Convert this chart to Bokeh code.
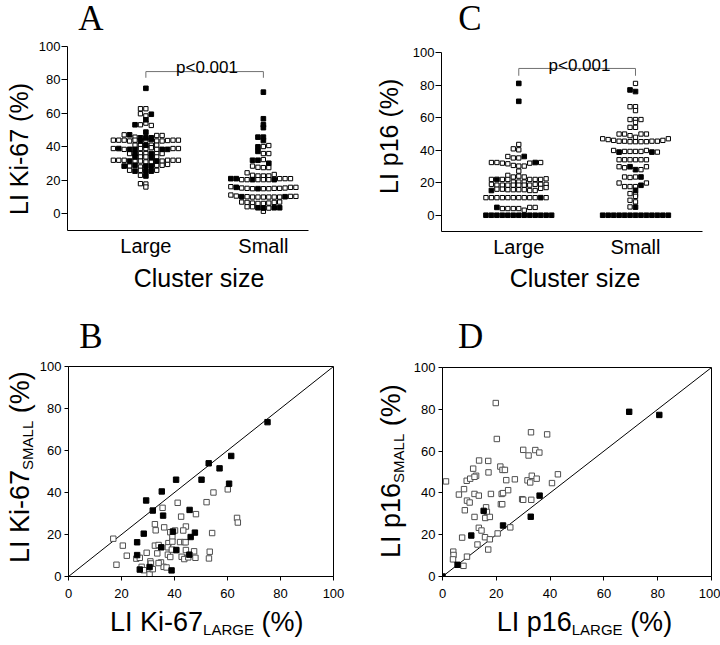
import math
from bokeh.plotting import figure
from bokeh.models import Range1d, FixedTicker, Label, Div
from bokeh.layouts import column, row
from bokeh.embed import file_html
from bokeh.resources import INLINE

# ---------------- data ----------------
# 1 = filled square, 0 = open square
# Panel A : LI Ki-67 (%)  -- Large clusters
a_large_vals = [75.0,
                62.8, 62.8,
                59.8, 58.5, 59.5,
                56.2,
                53.2, 53.2, 54.2, 52.8,
                48.8,
                47.2, 47.2, 45.8, 45.4, 45.4, 45.4, 46.8, 46.8,
                44.0, 44.0, 44.0, 43.5, 44.0, 43.5, 44.0, 44.4, 43.5, 43.5, 43.8, 44.0, 44.0,
                41.0, 41.0, 41.0, 41.0, 41.0,
                39.0, 39.0, 38.5, 38.5, 38.5, 39.0, 39.0, 39.5, 38.5, 38.5, 38.5, 39.0, 39.0,
                36.0, 36.0, 36.0, 36.0, 36.0, 36.0, 36.0,
                34.0, 34.0, 34.0, 33.5, 34.0,
                32.0, 32.0, 32.0, 31.5, 31.5, 31.5, 31.0, 31.0, 31.5, 31.5, 32.0, 32.0, 32.0,
                28.5, 28.5, 29.0, 28.0, 28.5, 28.5, 29.0, 29.0, 29.5,
                26.0, 25.5, 26.0, 25.5, 25.5, 26.0,
                23.0, 22.6,
                18.0, 17.8,
                16.0]
a_large_fill = [1,
                0, 0,
                0, 0, 1,
                1,
                1, 0, 0, 0,
                1,
                0, 1, 0, 1, 1, 1, 0, 0,
                0, 0, 0, 0, 0, 1, 0, 1, 0, 0, 0, 0, 0,
                0, 0, 1, 0, 0,
                0, 1, 0, 1, 1, 0, 0, 0, 0, 1, 1, 0, 0,
                0, 1, 0, 0, 1, 0, 0,
                1, 0, 0, 1, 0,
                0, 0, 0, 1, 0, 0, 0, 0, 1, 0, 0, 0, 0,
                1, 0, 1, 0, 1, 1, 0, 0, 0,
                0, 1, 0, 1, 1, 0,
                0, 1,
                0, 0,
                0]
# Panel A : LI Ki-67 (%)  -- Small clusters
a_small_vals = [72.7,
                56.8,
                53.2,
                51.5,
                45.8, 45.8,
                43.8,
                40.0, 40.2, 40.8,
                37.3, 36.0, 36.0,
                32.0, 32.0, 32.4, 30.2,
                28.5, 27.8, 27.6, 27.6,
                24.5, 23.0, 22.6, 22.6, 22.6, 23.5,
                21.0, 21.0, 20.4, 20.4, 20.4, 20.4, 20.4, 20.4, 20.4, 21.0, 21.0, 21.0,
                16.2, 15.8, 15.4, 15.2, 15.0, 15.0, 15.0, 15.0, 15.2, 15.2, 15.4, 15.8, 15.8,
                11.2, 10.6, 10.2, 10.2, 10.0, 10.0, 10.0, 10.0, 10.0, 10.0, 10.2, 10.4, 10.4,
                7.0, 6.8, 6.4, 6.2, 6.2, 6.4, 6.8, 7.0,
                4.2, 4.2, 3.6, 3.4, 3.4, 3.6, 3.6,
                1.5]
a_small_fill = [1,
                1,
                1,
                1,
                1, 1,
                1,
                1, 0, 0,
                1, 0, 0,
                1, 1, 0, 1,
                0, 0, 0, 0,
                0, 0, 0, 0, 0, 0,
                1, 1, 0, 0, 1, 0, 0, 0, 1, 0, 0, 0,
                0, 1, 0, 0, 0, 1, 0, 0, 0, 0, 0, 0, 0,
                0, 0, 1, 0, 0, 0, 0, 0, 0, 0, 1, 0, 0,
                0, 0, 0, 0, 0, 0, 0, 0,
                0, 0, 1, 1, 0, 1, 1,
                0]
# Panel C : LI p16 (%)  -- Large clusters
c_large_vals = [81.0,
                70.0,
                43.5,
                40.8, 40.2,
                36.1, 35.2, 35.2, 36.1,
                32.4, 32.4, 32.0, 31.6, 30.6, 30.2, 30.2, 32.0, 32.4, 32.4,
                27.1,
                24.5, 23.5, 24.0, 23.5,
                22.0, 22.0, 22.0, 22.0, 20.4, 20.4, 20.4, 22.0, 22.0, 22.0, 22.4,
                19.0, 18.5, 18.5, 18.5, 18.5, 18.5, 18.5, 18.5, 19.0, 19.0, 19.0,
                15.2, 16.0, 16.0, 15.7, 15.7, 15.7, 15.7, 15.2, 15.2, 16.5, 17.0,
                10.8, 10.8, 10.8, 10.8, 10.8, 10.8, 10.8, 10.8, 10.8, 10.8, 10.8, 10.8,
                4.8, 4.1, 4.1, 4.1, 4.1, 3.1, 4.8, 4.8,
                0, 0, 0, 0, 0, 0, 0, 0, 0, 0, 0, 0, 0]
c_large_fill = [1,
                1,
                0,
                0, 0,
                0, 0, 0, 1,
                0, 0, 0, 0, 0, 0, 0, 0, 1, 0,
                0,
                0, 0, 0, 0,
                0, 1, 0, 0, 0, 0, 0, 0, 0, 0, 0,
                0, 0, 0, 0, 0, 0, 0, 0, 0, 0, 0,
                1, 0, 0, 0, 0, 0, 0, 0, 0, 0, 0,
                0, 0, 0, 0, 0, 0, 0, 0, 0, 0, 1, 0,
                1, 0, 0, 0, 0, 0, 0, 0,
                1, 1, 1, 1, 1, 1, 1, 1, 1, 1, 1, 1, 1]
# Panel C : LI p16 (%)  -- Small clusters
c_small_vals = [81.0,
                77.0, 76.0,
                66.7, 66.7,
                64.3,
                58.8, 58.8, 58.8,
                57.0,
                54.0, 54.0,
                49.9, 49.9, 48.9, 47.9, 49.9, 49.9,
                47.0, 46.5, 46.0, 45.5, 45.5, 45.2, 45.2, 45.2, 45.2, 45.5, 45.5, 46.0, 47.0,
                39.8, 38.8, 39.2, 39.2, 39.2, 39.2, 39.8, 38.8, 38.8,
                34.1, 34.1, 34.1, 34.1, 34.1, 34.1,
                29.8, 29.2, 29.8, 28.0, 28.0, 29.8,
                23.5, 23.2, 23.5, 23.5,
                19.8, 17.6, 17.6, 17.6, 18.4, 19.8,
                15.3,
                13.3, 12.8,
                11.6,
                9.2, 8.2,
                5.1, 5.0,
                0, 0, 0, 0, 0, 0, 0, 0, 0, 0, 0, 0, 0]
c_small_fill = [0,
                1, 1,
                0, 0,
                0,
                0, 0, 0,
                0,
                0, 0,
                0, 0, 0, 0, 0, 0,
                0, 0, 0, 0, 0, 0, 0, 0, 0, 0, 0, 0, 0,
                0, 1, 0, 0, 0, 0, 0, 1, 0,
                0, 0, 0, 0, 0, 0,
                0, 0, 1, 1, 0, 0,
                0, 0, 0, 1,
                0, 0, 0, 0, 1, 0,
                1,
                0, 0,
                0,
                0, 0,
                0, 1,
                1, 1, 1, 1, 1, 1, 1, 1, 1, 1, 1, 1, 1]

# Panel B : LI Ki-67 Large vs Small (per case)
b_large_filled = [75.1, 61.4, 52.9, 57.0, 40.6, 50.2, 60.6, 35.2, 29.3, 31.8, 45.7, 35.7,
                  28.4, 39.4, 47.7, 46.1, 25.9, 35.0, 40.7, 25.9, 45.6, 26.9, 30.6, 38.9]
b_small_filled = [73.5, 57.4, 53.9, 51.5, 46.1, 46.1, 44.2, 40.5, 36.2, 31.4, 31.7, 29.0,
                  20.4, 21.4, 20.9, 18.8, 16.3, 13.9, 12.6, 10.2, 10.4, 3.3, 4.5, 2.9]
b_large_open = [54.7, 60.1, 52.1, 41.2, 35.5, 42.5, 48.1, 63.6, 63.9, 32.6, 32.9, 36.1, 44.3, 43.3,
                40.2, 38.4, 54.2, 16.9, 20.5, 22.0, 18.1, 25.6, 26.9, 29.5, 27.6, 30.9, 31.1, 30.6,
                31.8, 32.6, 34.0, 33.5, 34.9, 35.9, 37.0, 37.7, 37.5, 37.5, 38.4, 39.2, 39.2, 40.5,
                39.0, 42.1, 43.7, 42.7, 43.7, 44.3, 44.2, 45.2, 47.4, 47.9, 53.3, 53.0, 34.0, 28.4]
b_small_open = [40.0, 41.5, 35.4, 35.1, 32.7, 28.5, 29.7, 27.9, 25.7, 24.9, 22.0, 23.4, 23.8, 21.9,
                21.9, 21.1, 20.7, 18.0, 14.7, 9.9, 5.6, 8.5, 8.9, 11.3, 4.6, 7.2, 6.2, 1.0,
                3.5, 14.7, 15.0, 11.0, 6.7, 4.6, 4.3, 15.9, 13.9, 10.4, 9.3, 18.7, 16.6, 12.6,
                12.8, 16.4, 16.4, 9.4, 8.3, 12.6, 16.3, 9.1, 12.0, 8.9, 11.8, 8.6, 6.4, 3.0]

# Panel D : LI p16 Large vs Small (per case)
d_large_filled = [0.0, 5.6, 10.7, 15.3, 22.5, 32.8, 36.1, 69.4, 80.6]
d_small_filled = [0.0, 5.6, 19.6, 31.4, 24.4, 28.6, 38.7, 78.8, 77.3]
d_large_open = [19.8, 20.2, 32.9, 38.9, 30.0, 32.0, 34.5, 36.0, 13.6, 17.0, 11.4, 12.5, 17.1, 21.5,
                22.3, 23.2, 1.3, 9.0, 10.3, 11.9, 23.7, 26.9, 31.6, 32.6, 33.2, 35.0, 40.7, 42.9,
                6.1, 8.0, 9.1, 10.1, 8.3, 11.9, 11.9, 13.5, 18.0, 22.0, 22.5, 24.4, 21.7, 22.2,
                16.2, 16.5, 15.9, 17.6, 29.6, 30.0, 33.0, 13.5, 14.5, 15.8, 17.6, 17.0, 13.0,
                7.3, 20.5, 25.2, 4.0, 4.1, 3.9, 7.8, 9.1]
d_small_open = [83.0, 65.8, 69.0, 68.0, 60.6, 57.9, 60.5, 59.3, 55.5, 55.3, 51.6, 48.2, 49.8, 52.6,
                51.0, 51.0, 45.5, 45.8, 46.8, 47.7, 46.1, 46.5, 46.0, 45.0, 48.2, 46.8, 44.7, 48.9,
                39.2, 41.8, 36.3, 35.4, 31.7, 28.5, 39.5, 38.7, 39.5, 39.5, 39.9, 41.3, 34.6, 34.6,
                33.1, 30.9, 28.0, 28.5, 37.0, 36.7, 36.7, 23.3, 22.0, 18.8, 17.8, 12.9, 15.3,
                18.6, 20.6, 23.5, 11.9, 10.3, 8.2, 5.1, 9.5]

group_pos = {"Large": 1, "Small": 2}
pct_ticks = [0, 20, 40, 60, 80, 100]

# ---------------- helpers ----------------
FONT = "Liberation Sans"
SANS_K = 0.8465   # baseline offset (em) inside a line box of line-height 1
SERIF_K = 0.8375


def span(x, baseline, size, html, serif=False, align="center", vertical=False):
    fam = "'Liberation Serif'" if serif else "'Liberation Sans'"
    k = SERIF_K if serif else SANS_K
    base = (f"position:absolute;white-space:nowrap;font-family:{fam};font-size:{size}px;"
            f"line-height:{size}px;color:#000;margin:0;padding:0;")
    if vertical:
        # x = baseline position, baseline arg = bottom end of text
        return (f'<div style="{base}left:{x - k * size:.1f}px;top:{baseline:.1f}px;'
                f'transform-origin:0 0;transform:rotate(-90deg);">{html}</div>')
    top = baseline - k * size
    if align == "center":
        return (f'<div style="{base}left:{x - 150:.1f}px;width:300px;text-align:center;'
                f'top:{top:.1f}px;">{html}</div>')
    return f'<div style="{base}left:{x:.1f}px;top:{top:.1f}px;">{html}</div>'


def box(w, h, *items):
    inner = "".join(items)
    return Div(text=f'<div style="position:relative;width:{w}px;height:{h}px;margin:0;padding:0;">'
                    f'{inner}</div>', width=w, height=h, margin=0)


def sub(s):
    return f'<span style="font-size:15px;vertical-align:-3.5px;">{s}</span>'


def swarm_x(vals, center, dx, bw=2.5):
    bins = {}
    for i, v in enumerate(vals):
        bins.setdefault(int(math.floor(v / bw + 1e-9)), []).append(i)
    xs = [0.0] * len(vals)
    for idx in bins.values():
        n = len(idx)
        for j, i in enumerate(idx):
            xs[i] = center + (j - n // 2) * dx
    return xs


def base_fig(w, h, bl, br, bt, bb, xr, yr):
    p = figure(width=w, height=h, x_range=Range1d(*xr), y_range=Range1d(*yr),
               output_backend="svg", toolbar_location=None,
               min_border_left=bl, min_border_right=br, min_border_top=bt, min_border_bottom=bb)
    p.grid.visible = False
    p.background_fill_color = "white"
    p.border_fill_color = "white"
    for ax in (p.xaxis[0], p.yaxis[0]):
        ax.axis_line_color = "black"
        ax.axis_line_width = 1
        ax.major_tick_line_color = "black"
        ax.minor_tick_line_color = None
        ax.major_tick_in = 0
        ax.major_label_text_font = FONT
        ax.major_label_text_color = "black"
    return p


def swarm_panel(w, h, bl, br, bt, bb, xr, groups, brk, p_text_y, frame_px):
    p = base_fig(w, h, bl, br, bt, bb, xr, (-10, 100))
    p.outline_line_color = None
    p.xaxis.ticker = FixedTicker(ticks=list(group_pos.values()))
    p.xaxis.major_label_overrides = {v: k for k, v in group_pos.items()}
    p.xaxis.major_tick_out = 0
    p.xaxis.major_label_text_font_size = "20px"
    p.xaxis.major_label_standoff = 4
    p.yaxis.ticker = FixedTicker(ticks=pct_ticks)
    p.yaxis.major_tick_out = 6
    p.yaxis.major_label_standoff = 1
    p.yaxis.major_label_text_font_size = "13px"
    dx = 5.47 / frame_px
    for name, (vals, fills) in groups.items():
        xs = swarm_x(vals, group_pos[name], dx)
        ho = [(x, v) for x, v, f in zip(xs, vals, fills) if not f]
        fi = [(x, v) for x, v, f in zip(xs, vals, fills) if f]
        p.scatter([a for a, _ in ho], [b for _, b in ho], marker="square", size=4.3,
                  fill_color="white", line_color="black", line_width=1)
        p.scatter([a for a, _ in fi], [b for _, b in fi], marker="square", size=4.6,
                  fill_color="black", line_color="black", line_width=1)
    x1, x2 = group_pos["Large"], group_pos["Small"]
    p.line([x1, x1, x2, x2], [brk[1], brk[0], brk[0], brk[1]], line_color="#707070", line_width=1)
    p.add_layout(Label(x=(x1 + x2) / 2 + 0.02, y=p_text_y, text="p<0.001", text_font=FONT,
                       text_font_size="17px", text_align="center", text_baseline="alphabetic",
                       text_color="black"))
    return p


def scatter_panel(w, h, bl, br, bt, bb, lf, sf, lo, so):
    p = base_fig(w, h, bl, br, bt, bb, (0, 100), (0, 100))
    p.outline_line_color = "black"
    p.outline_line_width = 1
    for ax in (p.xaxis[0], p.yaxis[0]):
        ax.ticker = FixedTicker(ticks=pct_ticks)
        ax.major_tick_out = 4
        ax.major_label_text_font_size = "13px"
    p.xaxis.major_label_standoff = 8
    p.yaxis.major_label_standoff = 3
    p.line([0, 100], [0, 100], line_color="black", line_width=1)
    p.scatter(lo, so, marker="square", size=5.4, fill_color="white", line_color="#505050",
              line_width=1)
    p.scatter(lf, sf, marker="square", size=5.4, fill_color="black", line_color="black",
              line_width=1)
    return p


# ---------------- panel A (x 0-360, y 0-310) ----------------
pA = swarm_panel(325, 226, 30, 52, 10, 32, (0.333, 2.384),
                 {"Large": (a_large_vals, a_large_fill), "Small": (a_small_vals, a_small_fill)},
                 (85.0, 81.3), 87.6, 118.5)
topA = box(360, 36, span(91, 30.5, 35, "A", serif=True))
leftA = box(35, 226, span(28, 178.5, 25, "LI Ki-67 (%)", vertical=True))
botA = box(360, 48, span(199, 25, 25, "Cluster size"))

# ---------------- panel C (x 360-720, y 0-310) ----------------
pC = swarm_panel(313, 226, 34, 18, 16, 31, (0.338, 2.574),
                 {"Large": (c_large_vals, c_large_fill), "Small": (c_small_vals, c_small_fill)},
                 (90.2, 85.7), 92.3, 116.7)
topC = box(360, 36, span(110, 30.0, 35, "C", serif=True))
leftC = box(47, 226, span(38, 158, 25, "LI p16 (%)", vertical=True))
botC = box(360, 48, span(215, 25.3, 25, "Cluster size"))

# ---------------- panel B (x 0-360, y 310-645) ----------------
pB = scatter_panel(324, 248, 30, 27, 10, 28, b_large_filled, b_small_filled,
                   b_large_open, b_small_open)
topB = box(360, 46, span(91, 38.3, 35, "B", serif=True))
leftB = box(36, 248, span(30, 207.3, 27, "LI Ki-67" + sub("SMALL") + " (%)", vertical=True))
botB = box(360, 41, span(110, 27.7, 27, "LI Ki-67" + sub("LARGE") + " (%)", align="left"))

# ---------------- panel D (x 360-720, y 310-645) ----------------
pD = scatter_panel(310, 248, 32, 9, 11, 28, d_large_filled, d_small_filled,
                   d_large_open, d_small_open)
topD = box(360, 46, span(110.7, 38.3, 35, "D", serif=True))
leftD = box(50, 248, span(41, 202.3, 27, "LI p16" + sub("SMALL") + " (%)", vertical=True))
botD = box(360, 41, span(136.7, 27.7, 27, "LI p16" + sub("LARGE") + " (%)", align="left"))

left_col = column(topA, row(leftA, pA), botA, topB, row(leftB, pB), botB)
right_col = column(topC, row(leftC, pC), botC, topD, row(leftD, pD), botD)
layout = row(left_col, right_col)
open("out.html", "w").write(file_html(layout, INLINE))
